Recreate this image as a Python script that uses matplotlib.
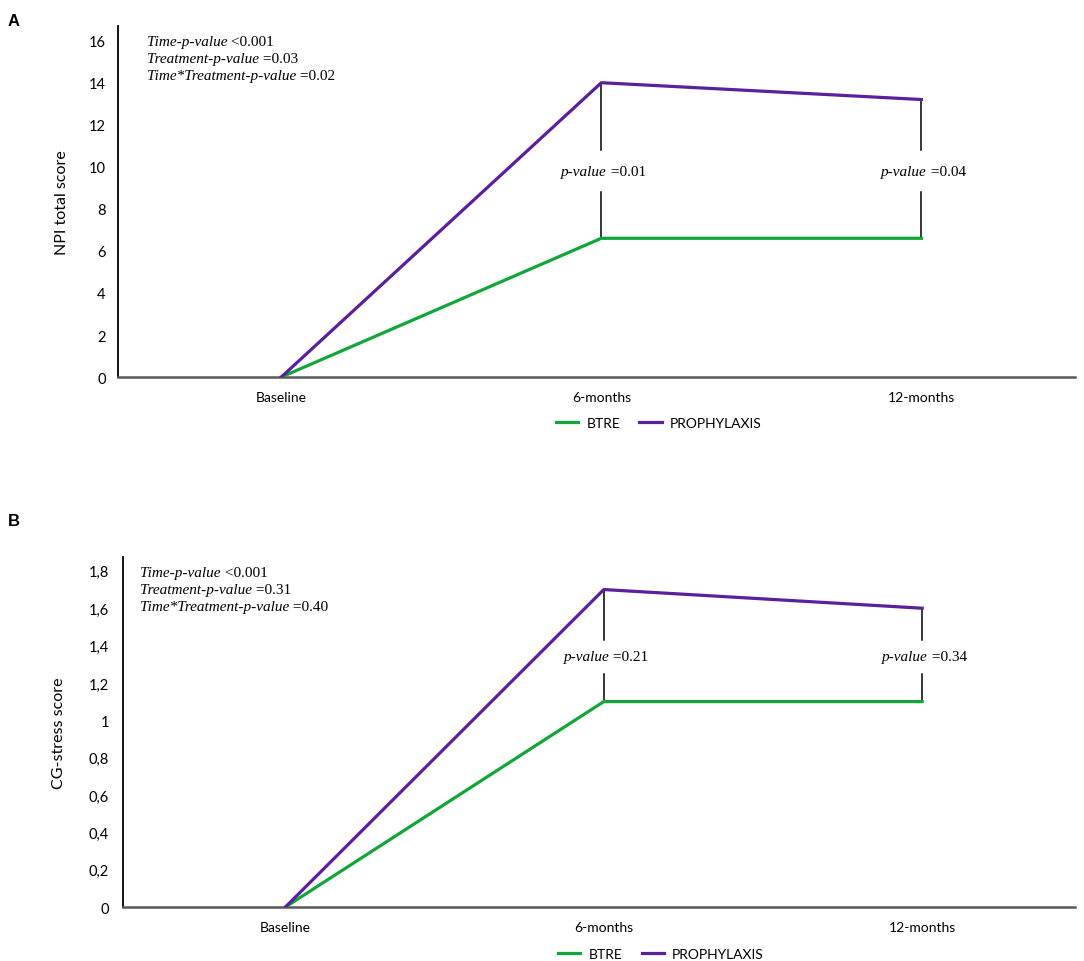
import matplotlib
matplotlib.use("Agg")
import matplotlib.pyplot as plt

# Data
timepoints = ["Baseline", "6-months", "12-months"]

npi_btre = [0.0, 6.6, 6.6]
npi_prophylaxis = [0.0, 14.0, 13.2]
npi_stats = [("Time-p-value", " <0.001"),
             ("Treatment-p-value", " =0.03"),
             ("Time*Treatment-p-value", " =0.02")]
npi_pvalues = ["0.01", "0.04"]
npi_ticks = [0, 2, 4, 6, 8, 10, 12, 14, 16]
npi_ticklabels = ["0", "2", "4", "6", "8", "10", "12", "14", "16"]

cg_btre = [0.0, 1.1, 1.1]
cg_prophylaxis = [0.0, 1.7, 1.6]
cg_stats = [("Time-p-value", " <0.001"),
            ("Treatment-p-value", " =0.31"),
            ("Time*Treatment-p-value", " =0.40")]
cg_pvalues = ["0.21", "0.34"]
cg_ticks = [0, 0.2, 0.4, 0.6, 0.8, 1.0, 1.2, 1.4, 1.6, 1.8]
cg_ticklabels = ["0", "0,2", "0,4", "0,6", "0,8", "1", "1,2", "1,4", "1,6", "1,8"]

GREEN = "#12a53a"
PURPLE = "#5b1f9e"
SANS = ["Lato", "DejaVu Sans"]
SERIF = ["Liberation Serif", "DejaVu Serif"]


def draw_panel(ax, btre, proph, stats, pvals, pval_y, gap, ticks, ticklabels, ymax,
               ylabel, stats_x, ylab_x, ypad, leg_y):
    x = list(range(len(timepoints)))
    ax.plot(x, btre, color=GREEN, lw=2.3, label="BTRE", zorder=3)
    ax.plot(x, proph, color=PURPLE, lw=2.3, label="PROPHYLAXIS", zorder=3)

    # vertical connectors between the groups, broken around the p-value label
    for i, p in zip(x[1:], pvals):
        ax.plot([i, i], [btre[i], pval_y - gap], color="black", lw=1.1, zorder=1)
        ax.plot([i, i], [pval_y + gap, proph[i]], color="black", lw=1.1, zorder=1)
        ax.annotate("p-value", xy=(i, pval_y), xytext=(4, 0), textcoords="offset points",
                    ha="right", va="center", fontsize=11, family=SERIF, style="italic")
        ax.annotate(" =" + p, xy=(i, pval_y), xytext=(4, 0), textcoords="offset points",
                    ha="left", va="center", fontsize=11, family=SERIF)

    # overall stats block
    for k, (lab, val) in enumerate(stats):
        it = ax.text(stats_x, 0.955 - k * 0.048, lab, transform=ax.transAxes, ha="left",
                     va="center", fontsize=11, family=SERIF, style="italic")
        ax.annotate(val, xy=(1, 0.5), xycoords=it, ha="left", va="center",
                    fontsize=11, family=SERIF)

    ax.set_xlim(-0.51, 2.48)
    ax.set_ylim(0, ymax)
    ax.set_xticks(x)
    ax.set_xticklabels(timepoints, family=SANS, fontsize=10)
    ax.set_yticks(ticks)
    ax.set_yticklabels(ticklabels, family=SANS, fontsize=10.5)
    ax.tick_params(axis="both", length=0)
    ax.tick_params(axis="x", pad=10)
    ax.tick_params(axis="y", pad=ypad)
    ax.set_ylabel(ylabel, family=SANS, fontsize=11.5)
    ax.yaxis.set_label_coords(ylab_x, 0.5)
    ax.spines["top"].set_visible(False)
    ax.spines["right"].set_visible(False)
    ax.spines["bottom"].set_color("#595959")
    ax.spines["bottom"].set_linewidth(1.8)
    ax.spines["left"].set_color("black")
    ax.spines["left"].set_linewidth(1.3)
    ax.legend(loc="center", bbox_to_anchor=(0.565, leg_y), ncol=2, frameon=False,
              handlelength=1.6, handletextpad=0.6, columnspacing=1.4,
              prop={"family": SANS, "size": 10})


fig = plt.figure(figsize=(10.84, 9.62), dpi=100)
axA = fig.add_axes([0.1089, 0.607, 0.8828, 0.365])
axB = fig.add_axes([0.1135, 0.0561, 0.8782, 0.364])

draw_panel(axA, npi_btre, npi_prophylaxis, npi_stats, npi_pvalues, 9.8, 1.0,
           npi_ticks, npi_ticklabels, 16.7, "NPI total score", 0.030, -0.051, 9, -0.13)
draw_panel(axB, cg_btre, cg_prophylaxis, cg_stats, cg_pvalues, 1.34, 0.09,
           cg_ticks, cg_ticklabels, 1.875, "CG-stress score", 0.018, -0.06, 10, -0.135)

for letter, ypx in [("A", 22), ("B", 522)]:
    fig.text(8 / 1084, 1 - ypx / 962, letter, fontsize=12, fontweight="bold",
             family=["Liberation Sans", "DejaVu Sans"], ha="left", va="center")

fig.savefig("out.png", dpi=100, facecolor="white")
